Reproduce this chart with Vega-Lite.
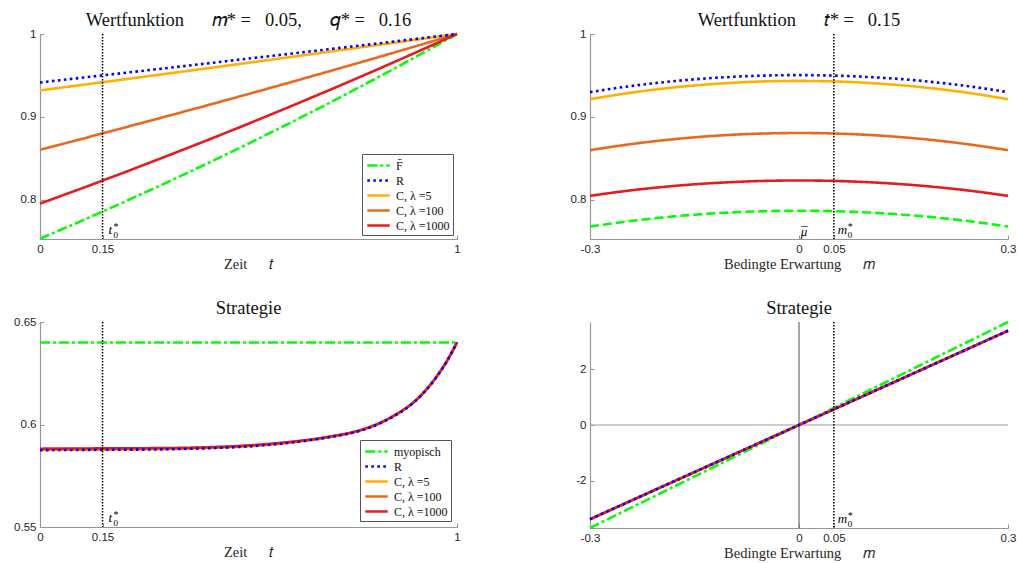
{
  "$schema": "https://vega.github.io/schema/vega-lite/v6.json",
  "background": "white",
  "padding": {"left": 13, "top": 10, "right": 2, "bottom": 2},
  "columns": 2,
  "spacing": {"row": 83, "column": 133},
  "bounds": "flush",
  "datasets": {
    "tl": [
      {"s": "F\u0304", "t": 0, "v": 0.7533}, {"s": "F\u0304", "t": 0.1, "v": 0.7749}, {"s": "F\u0304", "t": 0.2, "v": 0.7972}, {"s": "F\u0304", "t": 0.3, "v": 0.8201}, {"s": "F\u0304", "t": 0.4, "v": 0.8437}, {"s": "F\u0304", "t": 0.5, "v": 0.8679}, {"s": "F\u0304", "t": 0.6, "v": 0.8929}, {"s": "F\u0304", "t": 0.7, "v": 0.9185}, {"s": "F\u0304", "t": 0.8, "v": 0.9449}, {"s": "F\u0304", "t": 0.9, "v": 0.9721}, {"s": "F\u0304", "t": 1, "v": 1},
      {"s": "C, λ =5", "t": 0, "v": 0.932}, {"s": "C, λ =5", "t": 0.1, "v": 0.9386}, {"s": "C, λ =5", "t": 0.2, "v": 0.9452}, {"s": "C, λ =5", "t": 0.3, "v": 0.9519}, {"s": "C, λ =5", "t": 0.4, "v": 0.9586}, {"s": "C, λ =5", "t": 0.5, "v": 0.9654}, {"s": "C, λ =5", "t": 0.6, "v": 0.9722}, {"s": "C, λ =5", "t": 0.7, "v": 0.9791}, {"s": "C, λ =5", "t": 0.8, "v": 0.986}, {"s": "C, λ =5", "t": 0.9, "v": 0.993}, {"s": "C, λ =5", "t": 1, "v": 1},
      {"s": "C, λ =100", "t": 0, "v": 0.8606}, {"s": "C, λ =100", "t": 0.1, "v": 0.8736}, {"s": "C, λ =100", "t": 0.2, "v": 0.8869}, {"s": "C, λ =100", "t": 0.3, "v": 0.9003}, {"s": "C, λ =100", "t": 0.4, "v": 0.9139}, {"s": "C, λ =100", "t": 0.5, "v": 0.9277}, {"s": "C, λ =100", "t": 0.6, "v": 0.9417}, {"s": "C, λ =100", "t": 0.7, "v": 0.956}, {"s": "C, λ =100", "t": 0.8, "v": 0.9704}, {"s": "C, λ =100", "t": 0.9, "v": 0.9851}, {"s": "C, λ =100", "t": 1, "v": 1},
      {"s": "C, λ =1000", "t": 0, "v": 0.7956}, {"s": "C, λ =1000", "t": 0.1, "v": 0.814}, {"s": "C, λ =1000", "t": 0.2, "v": 0.8328}, {"s": "C, λ =1000", "t": 0.3, "v": 0.8521}, {"s": "C, λ =1000", "t": 0.4, "v": 0.8718}, {"s": "C, λ =1000", "t": 0.5, "v": 0.8919}, {"s": "C, λ =1000", "t": 0.6, "v": 0.9126}, {"s": "C, λ =1000", "t": 0.7, "v": 0.9337}, {"s": "C, λ =1000", "t": 0.8, "v": 0.9553}, {"s": "C, λ =1000", "t": 0.9, "v": 0.9774}, {"s": "C, λ =1000", "t": 1, "v": 1},
      {"s": "R", "t": 0, "v": 0.9416}, {"s": "R", "t": 0.1, "v": 0.9473}, {"s": "R", "t": 0.2, "v": 0.953}, {"s": "R", "t": 0.3, "v": 0.9587}, {"s": "R", "t": 0.4, "v": 0.9645}, {"s": "R", "t": 0.5, "v": 0.9704}, {"s": "R", "t": 0.6, "v": 0.9762}, {"s": "R", "t": 0.7, "v": 0.9821}, {"s": "R", "t": 0.8, "v": 0.988}, {"s": "R", "t": 0.9, "v": 0.994}, {"s": "R", "t": 1, "v": 1}
    ],
    "tr": [
      {"s": "F\u0304", "m": -0.3, "v": 0.768}, {"s": "F\u0304", "m": -0.25, "v": 0.7738}, {"s": "F\u0304", "m": -0.2, "v": 0.7786}, {"s": "F\u0304", "m": -0.15, "v": 0.7823}, {"s": "F\u0304", "m": -0.1, "v": 0.7849}, {"s": "F\u0304", "m": -0.05, "v": 0.7865}, {"s": "F\u0304", "m": 0, "v": 0.787}, {"s": "F\u0304", "m": 0.05, "v": 0.7865}, {"s": "F\u0304", "m": 0.1, "v": 0.7849}, {"s": "F\u0304", "m": 0.15, "v": 0.7823}, {"s": "F\u0304", "m": 0.2, "v": 0.7786}, {"s": "F\u0304", "m": 0.25, "v": 0.7738}, {"s": "F\u0304", "m": 0.3, "v": 0.768},
      {"s": "C, λ =5", "m": -0.3, "v": 0.9214}, {"s": "C, λ =5", "m": -0.25, "v": 0.9282}, {"s": "C, λ =5", "m": -0.2, "v": 0.9337}, {"s": "C, λ =5", "m": -0.15, "v": 0.938}, {"s": "C, λ =5", "m": -0.1, "v": 0.941}, {"s": "C, λ =5", "m": -0.05, "v": 0.9429}, {"s": "C, λ =5", "m": 0, "v": 0.9435}, {"s": "C, λ =5", "m": 0.05, "v": 0.9429}, {"s": "C, λ =5", "m": 0.1, "v": 0.941}, {"s": "C, λ =5", "m": 0.15, "v": 0.938}, {"s": "C, λ =5", "m": 0.2, "v": 0.9337}, {"s": "C, λ =5", "m": 0.25, "v": 0.9282}, {"s": "C, λ =5", "m": 0.3, "v": 0.9214},
      {"s": "C, λ =100", "m": -0.3, "v": 0.86}, {"s": "C, λ =100", "m": -0.25, "v": 0.8663}, {"s": "C, λ =100", "m": -0.2, "v": 0.8715}, {"s": "C, λ =100", "m": -0.15, "v": 0.8755}, {"s": "C, λ =100", "m": -0.1, "v": 0.8784}, {"s": "C, λ =100", "m": -0.05, "v": 0.8801}, {"s": "C, λ =100", "m": 0, "v": 0.8807}, {"s": "C, λ =100", "m": 0.05, "v": 0.8801}, {"s": "C, λ =100", "m": 0.1, "v": 0.8784}, {"s": "C, λ =100", "m": 0.15, "v": 0.8755}, {"s": "C, λ =100", "m": 0.2, "v": 0.8715}, {"s": "C, λ =100", "m": 0.25, "v": 0.8663}, {"s": "C, λ =100", "m": 0.3, "v": 0.86},
      {"s": "C, λ =1000", "m": -0.3, "v": 0.805}, {"s": "C, λ =1000", "m": -0.25, "v": 0.8107}, {"s": "C, λ =1000", "m": -0.2, "v": 0.8153}, {"s": "C, λ =1000", "m": -0.15, "v": 0.8189}, {"s": "C, λ =1000", "m": -0.1, "v": 0.8214}, {"s": "C, λ =1000", "m": -0.05, "v": 0.823}, {"s": "C, λ =1000", "m": 0, "v": 0.8235}, {"s": "C, λ =1000", "m": 0.05, "v": 0.823}, {"s": "C, λ =1000", "m": 0.1, "v": 0.8214}, {"s": "C, λ =1000", "m": 0.15, "v": 0.8189}, {"s": "C, λ =1000", "m": 0.2, "v": 0.8153}, {"s": "C, λ =1000", "m": 0.25, "v": 0.8107}, {"s": "C, λ =1000", "m": 0.3, "v": 0.805},
      {"s": "R", "m": -0.3, "v": 0.93}, {"s": "R", "m": -0.25, "v": 0.9363}, {"s": "R", "m": -0.2, "v": 0.9414}, {"s": "R", "m": -0.15, "v": 0.9454}, {"s": "R", "m": -0.1, "v": 0.9482}, {"s": "R", "m": -0.05, "v": 0.9499}, {"s": "R", "m": 0, "v": 0.9505}, {"s": "R", "m": 0.05, "v": 0.9499}, {"s": "R", "m": 0.1, "v": 0.9482}, {"s": "R", "m": 0.15, "v": 0.9454}, {"s": "R", "m": 0.2, "v": 0.9414}, {"s": "R", "m": 0.25, "v": 0.9363}, {"s": "R", "m": 0.3, "v": 0.93}
    ],
    "bl": [
      {"s": "myopisch", "t": 0, "v": 0.64}, {"s": "myopisch", "t": 1, "v": 0.64},
      {"s": "C, λ =5", "t": 0, "v": 0.5876}, {"s": "C, λ =5", "t": 0.1, "v": 0.5877}, {"s": "C, λ =5", "t": 0.2, "v": 0.5878}, {"s": "C, λ =5", "t": 0.3, "v": 0.588}, {"s": "C, λ =5", "t": 0.4, "v": 0.5885}, {"s": "C, λ =5", "t": 0.5, "v": 0.5894}, {"s": "C, λ =5", "t": 0.6, "v": 0.5912}, {"s": "C, λ =5", "t": 0.65, "v": 0.5925}, {"s": "C, λ =5", "t": 0.7, "v": 0.5941}, {"s": "C, λ =5", "t": 0.75, "v": 0.5961}, {"s": "C, λ =5", "t": 0.8, "v": 0.5993}, {"s": "C, λ =5", "t": 0.85, "v": 0.6043}, {"s": "C, λ =5", "t": 0.9, "v": 0.6115}, {"s": "C, λ =5", "t": 0.95, "v": 0.623}, {"s": "C, λ =5", "t": 0.975, "v": 0.6307}, {"s": "C, λ =5", "t": 1, "v": 0.64},
      {"s": "C, λ =100", "t": 0, "v": 0.5879}, {"s": "C, λ =100", "t": 0.1, "v": 0.588}, {"s": "C, λ =100", "t": 0.2, "v": 0.5881}, {"s": "C, λ =100", "t": 0.3, "v": 0.5882}, {"s": "C, λ =100", "t": 0.4, "v": 0.5887}, {"s": "C, λ =100", "t": 0.5, "v": 0.5896}, {"s": "C, λ =100", "t": 0.6, "v": 0.5914}, {"s": "C, λ =100", "t": 0.65, "v": 0.5926}, {"s": "C, λ =100", "t": 0.7, "v": 0.5942}, {"s": "C, λ =100", "t": 0.75, "v": 0.5962}, {"s": "C, λ =100", "t": 0.8, "v": 0.5994}, {"s": "C, λ =100", "t": 0.85, "v": 0.6044}, {"s": "C, λ =100", "t": 0.9, "v": 0.6116}, {"s": "C, λ =100", "t": 0.95, "v": 0.623}, {"s": "C, λ =100", "t": 0.975, "v": 0.6307}, {"s": "C, λ =100", "t": 1, "v": 0.64},
      {"s": "C, λ =1000", "t": 0, "v": 0.5882}, {"s": "C, λ =1000", "t": 0.1, "v": 0.5883}, {"s": "C, λ =1000", "t": 0.2, "v": 0.5884}, {"s": "C, λ =1000", "t": 0.3, "v": 0.5885}, {"s": "C, λ =1000", "t": 0.4, "v": 0.5889}, {"s": "C, λ =1000", "t": 0.5, "v": 0.5898}, {"s": "C, λ =1000", "t": 0.6, "v": 0.5915}, {"s": "C, λ =1000", "t": 0.65, "v": 0.5927}, {"s": "C, λ =1000", "t": 0.7, "v": 0.5943}, {"s": "C, λ =1000", "t": 0.75, "v": 0.5963}, {"s": "C, λ =1000", "t": 0.8, "v": 0.5995}, {"s": "C, λ =1000", "t": 0.85, "v": 0.6045}, {"s": "C, λ =1000", "t": 0.9, "v": 0.6116}, {"s": "C, λ =1000", "t": 0.95, "v": 0.6231}, {"s": "C, λ =1000", "t": 0.975, "v": 0.6307}, {"s": "C, λ =1000", "t": 1, "v": 0.64},
      {"s": "R", "t": 0, "v": 0.5875}, {"s": "R", "t": 0.1, "v": 0.5876}, {"s": "R", "t": 0.2, "v": 0.5877}, {"s": "R", "t": 0.3, "v": 0.5879}, {"s": "R", "t": 0.4, "v": 0.5884}, {"s": "R", "t": 0.5, "v": 0.5893}, {"s": "R", "t": 0.6, "v": 0.5911}, {"s": "R", "t": 0.65, "v": 0.5924}, {"s": "R", "t": 0.7, "v": 0.594}, {"s": "R", "t": 0.75, "v": 0.596}, {"s": "R", "t": 0.8, "v": 0.5992}, {"s": "R", "t": 0.85, "v": 0.6042}, {"s": "R", "t": 0.9, "v": 0.6114}, {"s": "R", "t": 0.95, "v": 0.6229}, {"s": "R", "t": 0.975, "v": 0.6306}, {"s": "R", "t": 1, "v": 0.64}
    ],
    "br": [
      {"s": "myopisch", "m": -0.3, "v": -3.68}, {"s": "myopisch", "m": 0, "v": 0}, {"s": "myopisch", "m": 0.3, "v": 3.68},
      {"s": "C, λ =5", "m": -0.3, "v": -3.367}, {"s": "C, λ =5", "m": 0, "v": 0}, {"s": "C, λ =5", "m": 0.3, "v": 3.367},
      {"s": "C, λ =100", "m": -0.3, "v": -3.367}, {"s": "C, λ =100", "m": 0, "v": 0}, {"s": "C, λ =100", "m": 0.3, "v": 3.367},
      {"s": "C, λ =1000", "m": -0.3, "v": -3.367}, {"s": "C, λ =1000", "m": 0, "v": 0}, {"s": "C, λ =1000", "m": 0.3, "v": 3.367},
      {"s": "R", "m": -0.3, "v": -3.367}, {"s": "R", "m": 0, "v": 0}, {"s": "R", "m": 0.3, "v": 3.367}
    ]
  },
  "concat": [
    {
      "width": 417, "height": 205,
      "title": "Wertfunktion\u2003\u2002𝑚* =\u2002 0.05,\u2003\u2002𝑞* =\u2002 0.16",
      "layer": [
        {
          "data": {"name": "tl"},
          "mark": {"type": "line", "strokeWidth": 2.6},
          "encoding": {
            "x": {"field": "t", "type": "quantitative", "scale": {"domain": [0, 1], "nice": false, "zero": false}, "axis": {"values": [0, 0.15, 1], "title": "Zeit\u2003\u2002𝑡"}},
            "y": {"field": "v", "type": "quantitative", "scale": {"domain": [0.753, 1], "nice": false, "zero": false}, "axis": {"values": [0.8, 0.9, 1], "title": null}},
            "color": {"field": "s", "type": "nominal", "scale": {"domain": ["F\u0304", "R", "C, λ =5", "C, λ =100", "C, λ =1000"], "range": ["#00ff00", "#0000ff", "#ffb000", "#e8691e", "#e51b20"]}, "legend": {"orient": "bottom-right", "offset": 4, "title": null}},
            "strokeDash": {"field": "s", "type": "nominal", "scale": {"domain": ["F\u0304", "R", "C, λ =5", "C, λ =100", "C, λ =1000"], "range": [[10, 3, 3, 3], [2.6, 3.4], [1, 0], [1, 0], [1, 0]]}, "legend": {"orient": "bottom-right", "offset": 4, "title": null}}
          }
        },
        {"data": {"values": [{}]}, "mark": {"type": "rule", "color": "black", "strokeWidth": 1.5, "strokeDash": [1.5, 1.5]}, "encoding": {"x": {"datum": 0.15}}},
        {"data": {"values": [{}]}, "mark": {"type": "text", "text": "t", "font": "Liberation Serif", "fontStyle": "italic", "fontSize": 13, "align": "left", "baseline": "alphabetic", "dx": 6, "dy": -5, "color": "black"}, "encoding": {"x": {"datum": 0.15}, "y": {"datum": 0.753}}},
        {"data": {"values": [{}]}, "mark": {"type": "text", "text": "0", "font": "Liberation Serif", "fontSize": 9, "align": "left", "baseline": "alphabetic", "dx": 11, "dy": -1, "color": "black"}, "encoding": {"x": {"datum": 0.15}, "y": {"datum": 0.753}}},
        {"data": {"values": [{}]}, "mark": {"type": "text", "text": "*", "font": "Liberation Serif", "fontSize": 10, "align": "left", "baseline": "alphabetic", "dx": 11, "dy": -9, "color": "black"}, "encoding": {"x": {"datum": 0.15}, "y": {"datum": 0.753}}}
      ]
    },
    {
      "width": 418, "height": 205,
      "title": "Wertfunktion\u2003\u2002𝑡* =\u2002 0.15",
      "layer": [
        {
          "data": {"name": "tr"},
          "mark": {"type": "line", "strokeWidth": 2.6, "interpolate": "monotone"},
          "encoding": {
            "x": {"field": "m", "type": "quantitative", "scale": {"domain": [-0.3, 0.3], "nice": false, "zero": false}, "axis": {"values": [-0.3, 0, 0.05, 0.3], "title": "Bedingte Erwartung\u2003\u2002𝑚"}},
            "y": {"field": "v", "type": "quantitative", "scale": {"domain": [0.753, 1], "nice": false, "zero": false}, "axis": {"values": [0.8, 0.9, 1], "title": null}},
            "color": {"field": "s", "type": "nominal", "scale": {"domain": ["F\u0304", "R", "C, λ =5", "C, λ =100", "C, λ =1000"], "range": ["#00ff00", "#0000ff", "#ffb000", "#e8691e", "#e51b20"]}, "legend": null},
            "strokeDash": {"field": "s", "type": "nominal", "scale": {"domain": ["F\u0304", "R", "C, λ =5", "C, λ =100", "C, λ =1000"], "range": [[9, 4], [2.6, 3.4], [1, 0], [1, 0], [1, 0]]}, "legend": null}
          }
        },
        {"data": {"values": [{}]}, "mark": {"type": "rule", "color": "black", "strokeWidth": 1.5, "strokeDash": [1.5, 1.5]}, "encoding": {"x": {"datum": 0.05}}},
        {"data": {"values": [{}]}, "mark": {"type": "text", "text": "μ", "font": "Liberation Serif", "fontStyle": "italic", "fontSize": 13, "align": "center", "baseline": "alphabetic", "dx": 5, "dy": -3, "color": "black"}, "encoding": {"x": {"datum": 0}, "y": {"datum": 0.753}}},
        {"data": {"values": [{}]}, "mark": {"type": "text", "text": "¯", "font": "Liberation Serif", "fontSize": 13, "align": "center", "baseline": "alphabetic", "dx": 5.5, "dy": -3, "color": "black"}, "encoding": {"x": {"datum": 0}, "y": {"datum": 0.753}}},
        {"data": {"values": [{}]}, "mark": {"type": "text", "text": "m", "font": "Liberation Serif", "fontStyle": "italic", "fontSize": 13, "align": "left", "baseline": "alphabetic", "dx": 4, "dy": -5, "color": "black"}, "encoding": {"x": {"datum": 0.05}, "y": {"datum": 0.753}}},
        {"data": {"values": [{}]}, "mark": {"type": "text", "text": "0", "font": "Liberation Serif", "fontSize": 9, "align": "left", "baseline": "alphabetic", "dx": 14, "dy": -1, "color": "black"}, "encoding": {"x": {"datum": 0.05}, "y": {"datum": 0.753}}},
        {"data": {"values": [{}]}, "mark": {"type": "text", "text": "*", "font": "Liberation Serif", "fontSize": 10, "align": "left", "baseline": "alphabetic", "dx": 14, "dy": -9, "color": "black"}, "encoding": {"x": {"datum": 0.05}, "y": {"datum": 0.753}}}
      ]
    },
    {
      "width": 417, "height": 205,
      "title": "Strategie",
      "layer": [
        {
          "data": {"name": "bl"},
          "mark": {"type": "line", "strokeWidth": 2.6, "interpolate": "monotone"},
          "encoding": {
            "x": {"field": "t", "type": "quantitative", "scale": {"domain": [0, 1], "nice": false, "zero": false}, "axis": {"values": [0, 0.15, 1], "title": "Zeit\u2003\u2002𝑡"}},
            "y": {"field": "v", "type": "quantitative", "scale": {"domain": [0.55, 0.65], "nice": false, "zero": false}, "axis": {"values": [0.55, 0.6, 0.65], "title": null}},
            "color": {"field": "s", "type": "nominal", "scale": {"domain": ["myopisch", "R", "C, λ =5", "C, λ =100", "C, λ =1000"], "range": ["#00ff00", "#0000ff", "#ffb000", "#e8691e", "#e51b20"]}, "legend": {"orient": "bottom-right", "offset": 6, "title": null}},
            "strokeDash": {"field": "s", "type": "nominal", "scale": {"domain": ["myopisch", "R", "C, λ =5", "C, λ =100", "C, λ =1000"], "range": [[10, 3, 3, 3], [2.6, 3.4], [1, 0], [1, 0], [1, 0]]}, "legend": {"orient": "bottom-right", "offset": 6, "title": null}}
          }
        },
        {"data": {"values": [{}]}, "mark": {"type": "rule", "color": "black", "strokeWidth": 1.5, "strokeDash": [1.5, 1.5]}, "encoding": {"x": {"datum": 0.15}}},
        {"data": {"values": [{}]}, "mark": {"type": "text", "text": "t", "font": "Liberation Serif", "fontStyle": "italic", "fontSize": 13, "align": "left", "baseline": "alphabetic", "dx": 6, "dy": -5, "color": "black"}, "encoding": {"x": {"datum": 0.15}, "y": {"datum": 0.55}}},
        {"data": {"values": [{}]}, "mark": {"type": "text", "text": "0", "font": "Liberation Serif", "fontSize": 9, "align": "left", "baseline": "alphabetic", "dx": 11, "dy": -1, "color": "black"}, "encoding": {"x": {"datum": 0.15}, "y": {"datum": 0.55}}},
        {"data": {"values": [{}]}, "mark": {"type": "text", "text": "*", "font": "Liberation Serif", "fontSize": 10, "align": "left", "baseline": "alphabetic", "dx": 11, "dy": -9, "color": "black"}, "encoding": {"x": {"datum": 0.15}, "y": {"datum": 0.55}}}
      ]
    },
    {
      "width": 418, "height": 206,
      "title": "Strategie",
      "layer": [
        {"data": {"values": [{}]}, "mark": {"type": "rule", "color": "#999999", "strokeWidth": 1}, "encoding": {"y": {"datum": 0}}},
        {"data": {"values": [{}]}, "mark": {"type": "rule", "color": "#4d4d4d", "strokeWidth": 1}, "encoding": {"x": {"datum": 0}}},
        {
          "data": {"name": "br"},
          "mark": {"type": "line", "strokeWidth": 2.6},
          "encoding": {
            "x": {"field": "m", "type": "quantitative", "scale": {"domain": [-0.3, 0.3], "nice": false, "zero": false}, "axis": {"values": [-0.3, 0, 0.05, 0.3], "title": "Bedingte Erwartung\u2003\u2002𝑚"}},
            "y": {"field": "v", "type": "quantitative", "scale": {"domain": [-3.68, 3.68], "nice": false, "zero": false}, "axis": {"values": [-2, 0, 2], "title": null}},
            "color": {"field": "s", "type": "nominal", "scale": {"domain": ["myopisch", "R", "C, λ =5", "C, λ =100", "C, λ =1000"], "range": ["#00ff00", "#0000ff", "#ffb000", "#e8691e", "#e51b20"]}, "legend": null},
            "strokeDash": {"field": "s", "type": "nominal", "scale": {"domain": ["myopisch", "R", "C, λ =5", "C, λ =100", "C, λ =1000"], "range": [[10, 3, 3, 3], [2.6, 3.4], [1, 0], [1, 0], [1, 0]]}, "legend": null}
          }
        },
        {"data": {"values": [{}]}, "mark": {"type": "rule", "color": "black", "strokeWidth": 1.5, "strokeDash": [1.5, 1.5]}, "encoding": {"x": {"datum": 0.05}}},
        {"data": {"values": [{}]}, "mark": {"type": "text", "text": "m", "font": "Liberation Serif", "fontStyle": "italic", "fontSize": 13, "align": "left", "baseline": "alphabetic", "dx": 4, "dy": -5, "color": "black"}, "encoding": {"x": {"datum": 0.05}, "y": {"datum": -3.68}}},
        {"data": {"values": [{}]}, "mark": {"type": "text", "text": "0", "font": "Liberation Serif", "fontSize": 9, "align": "left", "baseline": "alphabetic", "dx": 14, "dy": -1, "color": "black"}, "encoding": {"x": {"datum": 0.05}, "y": {"datum": -3.68}}},
        {"data": {"values": [{}]}, "mark": {"type": "text", "text": "*", "font": "Liberation Serif", "fontSize": 10, "align": "left", "baseline": "alphabetic", "dx": 14, "dy": -9, "color": "black"}, "encoding": {"x": {"datum": 0.05}, "y": {"datum": -3.68}}}
      ]
    }
  ],
  "resolve": {
    "scale": {"x": "independent", "y": "independent", "color": "independent", "strokeDash": "independent"},
    "legend": {"color": "independent", "strokeDash": "independent"}
  },
  "config": {
    "view": {"stroke": null},
    "font": "Liberation Serif",
    "axis": {
      "grid": false,
      "domainColor": "#969696",
      "domainWidth": 1.2,
      "tickColor": "#969696",
      "tickWidth": 1,
      "tickSize": -4,
      "labelPadding": 8,
      "labelFont": "Liberation Sans",
      "labelFontSize": 11.5,
      "labelColor": "#262626",
      "labelFlush": false,
      "labelOverlap": false,
      "labelExpr": "'' + datum.value",
      "titleFont": "Liberation Serif",
      "titleFontSize": 14.5,
      "titleFontWeight": "normal",
      "titleColor": "#262626",
      "titlePadding": 3
    },
    "title": {
      "font": "Liberation Serif",
      "fontSize": 18.5,
      "fontWeight": "normal",
      "color": "#111111",
      "frame": "group",
      "baseline": "alphabetic",
      "offset": -1,
      "anchor": "middle"
    },
    "legend": {
      "labelFont": "Liberation Serif",
      "labelFontSize": 12,
      "labelColor": "#111111",
      "symbolType": "M-1.6,0H1.6",
      "symbolSize": 196,
      "symbolStrokeWidth": 2.6,
      "symbolFillColor": "transparent",
      "strokeColor": "#555555",
      "fillColor": "white",
      "padding": 3,
      "rowPadding": 0,
      "labelOffset": 9,
      "symbolOffset": 5
    }
  }
}
